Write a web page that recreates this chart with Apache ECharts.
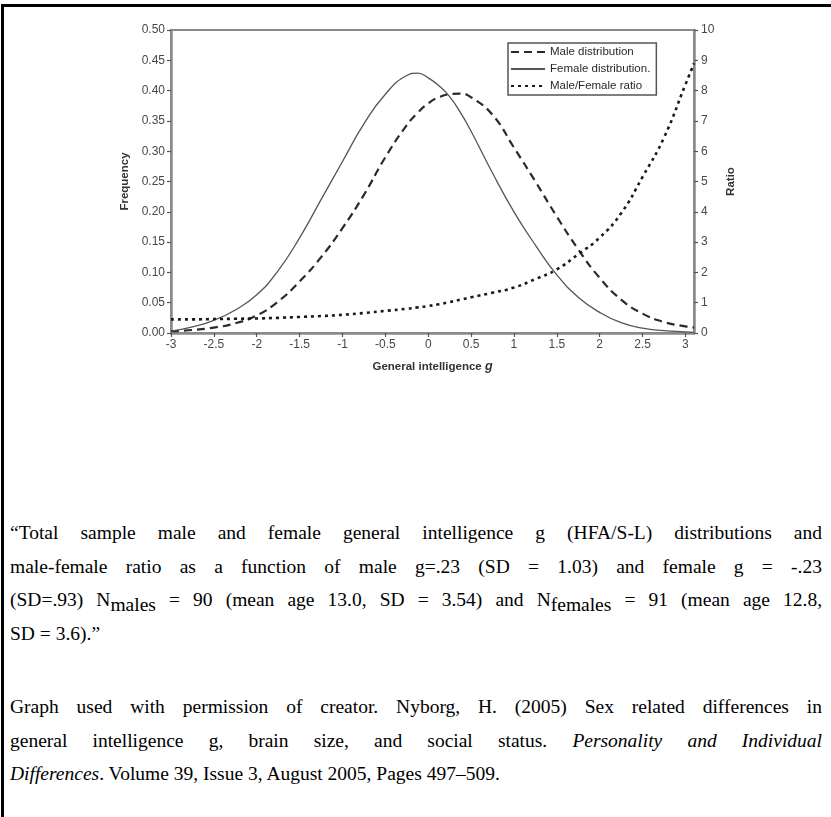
<!DOCTYPE html>
<html>
<head>
<meta charset="utf-8">
<script src="https://cdn.jsdelivr.net/npm/echarts@6/dist/echarts.min.js"></script>
<style>
  html, body { margin: 0; padding: 0; background: #fff; width: 831px; height: 817px; overflow: hidden; }
  #frame { position: absolute; left: 1px; top: 4px; width: 900px; height: 900px;
           border-top: 3px solid #000; border-left: 3px solid #000; box-sizing: border-box; }
  #chart { position: absolute; left: 0; top: 0; width: 831px; height: 420px; }
  .cap { position: absolute; left: 10px; width: 812px; font-family: "Liberation Serif", "Times New Roman", serif;
         font-size: 19.5px; color: #000; margin: 0; }
  .ln { height: 33.5px; line-height: 33.5px; white-space: nowrap; text-align: justify; text-align-last: justify; }
  .ln.last { text-align-last: left; }
  .sub { vertical-align: -0.28em; line-height: 0; }
</style>
</head>
<body>
<div id="frame"></div>
<div id="chart"></div>
<div class="cap" style="top:516px;">
  <div class="ln">“Total sample male and female general intelligence g (HFA/S-L) distributions and</div>
  <div class="ln">male-female ratio as a function of male g=.23 (SD = 1.03) and female g = -.23</div>
  <div class="ln">(SD=.93) N<span class="sub">males</span> = 90 (mean age 13.0, SD = 3.54) and N<span class="sub">females</span> = 91 (mean age 12.8,</div>
  <div class="ln last">SD = 3.6).”</div>
</div>
<div class="cap" style="top:690px;">
  <div class="ln">Graph used with permission of creator. Nyborg, H. (2005) Sex related differences in</div>
  <div class="ln">general intelligence g, brain size, and social status. <i>Personality and Individual</i></div>
  <div class="ln last"><i>Differences</i>. Volume 39, Issue 3, August 2005, Pages 497–509.</div>
</div>
<script>
const gValues    = [-3, -2.75, -2.5, -2.25, -2, -1.75, -1.5, -1.25, -1, -0.75, -0.5, -0.25, -0.125, 0, 0.125, 0.25, 0.375, 0.5, 0.75, 1, 1.25, 1.5, 1.75, 2, 2.25, 2.5, 2.75, 3, 3.1];
const maleFreq   = [0.003, 0.005, 0.009, 0.016, 0.029, 0.052, 0.085, 0.125, 0.173, 0.228, 0.290, 0.343, 0.363, 0.379, 0.389, 0.394, 0.395, 0.389, 0.360, 0.306, 0.250, 0.192, 0.138, 0.091, 0.055, 0.032, 0.018, 0.011, 0.009];
const femaleFreq = [0.003, 0.010, 0.021, 0.038, 0.063, 0.103, 0.157, 0.220, 0.283, 0.345, 0.394, 0.425, 0.429, 0.421, 0.408, 0.390, 0.364, 0.333, 0.264, 0.200, 0.145, 0.096, 0.059, 0.034, 0.017, 0.008, 0.004, 0.002, 0.001];
const ratioVals  = [0.45, 0.45, 0.46, 0.47, 0.48, 0.50, 0.53, 0.56, 0.60, 0.66, 0.73, 0.80, 0.845, 0.89, 0.95, 1.02, 1.10, 1.18, 1.33, 1.50, 1.78, 2.10, 2.60, 3.15, 3.95, 5.15, 6.45, 8.20, 8.90];
const xTicks     = [-3, -2.5, -2, -1.5, -1, -0.5, 0, 0.5, 1, 1.5, 2, 2.5, 3];
const seriesNames = ['Male distribution', 'Female distribution.', 'Male/Female ratio'];

const pairs = arr => gValues.map((g, i) => [g, arr[i]]);
const axisCol = '#8a8a8a';
const FONT = 'Liberation Sans, Arial, sans-serif';
const labelStyle = { color: '#484848', fontSize: 12, fontFamily: FONT };
const nameStyle = { fontSize: 11.5, fontWeight: 'bold', color: '#333', fontFamily: FONT };

const chart = echarts.init(document.getElementById('chart'), null, { renderer: 'canvas' });
chart.setOption({
  backgroundColor: 'transparent',
  animation: false,
  grid: { left: 171, right: 137, top: 30, bottom: 87, show: true, borderColor: axisCol, borderWidth: 2 },
  legend: {
    orient: 'vertical', left: 508, top: 43,
    data: seriesNames,
    borderColor: '#555', borderWidth: 1.5, padding: [3, 6, 3, 2],
    itemWidth: 34, itemHeight: 10, itemGap: 5,
    itemStyle: { opacity: 0 },
    textStyle: { fontSize: 11.5, color: '#2a2a2a', fontFamily: FONT }
  },
  xAxis: {
    type: 'value', min: -3, max: 3.1, interval: 0.5,
    name: '{a|General intelligence }{b|g}', nameLocation: 'middle', nameGap: 27,
    nameTextStyle: { rich: {
      a: nameStyle,
      b: Object.assign({}, nameStyle, { fontSize: 12.5, fontStyle: 'italic' }) } },
    axisLine: { show: true, onZero: false, lineStyle: { color: axisCol, width: 2.5 } },
    axisTick: { show: true, length: 4, customValues: xTicks, lineStyle: { color: '#555', width: 1.2 } },
    axisLabel: Object.assign({ margin: 6, customValues: xTicks, formatter: v => String(v) }, labelStyle),
    splitLine: { show: false }
  },
  yAxis: [{
    type: 'value', min: 0, max: 0.5, interval: 0.05, position: 'left',
    name: 'Frequency', nameLocation: 'middle', nameGap: 38, nameRotate: 90,
    nameTextStyle: nameStyle,
    axisLine: { show: true, onZero: false, lineStyle: { color: axisCol, width: 2.5 } },
    axisTick: { show: true, length: 4, lineStyle: { color: '#555', width: 1.2 } },
    axisLabel: Object.assign({ margin: 6, formatter: v => v.toFixed(2) }, labelStyle),
    splitLine: { show: false }
  }, {
    type: 'value', min: 0, max: 10, interval: 1, position: 'right',
    name: 'Ratio', nameLocation: 'middle', nameGap: 13, nameRotate: 90,
    nameTextStyle: nameStyle,
    axisLine: { show: true, onZero: false, lineStyle: { color: axisCol, width: 2.5 } },
    axisTick: { show: true, length: 4, lineStyle: { color: '#555', width: 1.2 } },
    axisLabel: Object.assign({ margin: 7 }, labelStyle),
    splitLine: { show: false }
  }],
  series: [{
    name: seriesNames[0], type: 'line', yAxisIndex: 0, data: pairs(maleFreq),
    smooth: 0.5, symbol: 'none', color: '#2a2a2a',
    lineStyle: { color: '#2a2a2a', width: 2.2, type: [8, 5] }
  }, {
    name: seriesNames[1], type: 'line', yAxisIndex: 0, data: pairs(femaleFreq),
    smooth: 0.5, symbol: 'none', color: '#555',
    lineStyle: { color: '#555', width: 1.3, type: 'solid' }
  }, {
    name: seriesNames[2], type: 'line', yAxisIndex: 1, data: pairs(ratioVals),
    smooth: 0.5, symbol: 'none', color: '#1a1a1a',
    lineStyle: { color: '#1a1a1a', width: 2.6, type: [3, 4] }
  }]
});
</script>
</body>
</html>
